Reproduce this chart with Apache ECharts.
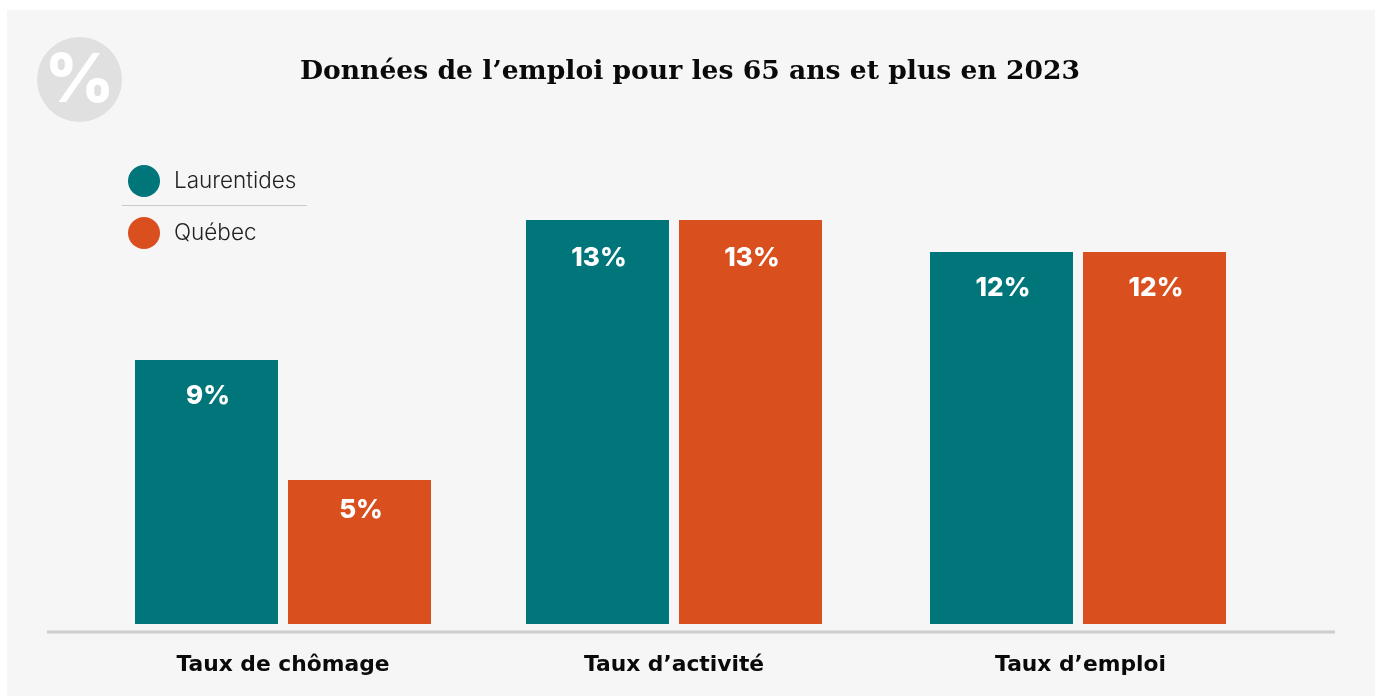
<!DOCTYPE html>
<html lang="fr"><head><meta charset="utf-8">
<style>html,body{margin:0;padding:0;background:#fff}#c{width:1377px;height:696px}</style>
<script src="https://cdn.jsdelivr.net/npm/echarts@6/dist/echarts.min.js"></script>
</head><body><div id="c"></div>
<script>
const titleText = "Données de l’emploi pour les 65 ans et plus en 2023";
const categories = ["Taux de chômage", "Taux d’activité", "Taux d’emploi"];
const seriesNames = ["Laurentides", "Québec"];
const laurentides = [8.8, 13.47, 12.4];
const quebec = [4.8, 13.47, 12.4];
const laurentidesLabels = ["9%", "13%", "12%"];
const quebecLabels = ["5%", "13%", "12%"];

// layout (not data)
const centers = [283, 674, 1078];
const labelNudge = { [seriesNames[0]]: [23, 25, 23], [seriesNames[1]]: [17, 25, 23] };
const axisLabelPad = [0, 0, 5];
const colors = ["#00757a", "#d94f1e"];
const sans = "Inter";

const chart = echarts.init(document.getElementById("c"));
const grids = [], xAxes = [], yAxes = [], series = [];
categories.forEach((cat, i) => {
  grids.push({ left: centers[i] - 190, width: 380, top: 24, height: 600 });
  xAxes.push({ type: "category", gridIndex: i, data: [cat], axisLine: { show: false }, axisTick: { show: false },
    axisLabel: { interval: 0, margin: 30, padding: [0, 0, 0, axisLabelPad[i]], fontFamily: "DejaVu Sans", fontWeight: 700, fontSize: 21.8, color: "#0a0a0a" } });
  yAxes.push({ type: "value", gridIndex: i, min: 0, max: 20, show: false });
  [[laurentides, laurentidesLabels], [quebec, quebecLabels]].forEach(([vals, labs], s) => {
    series.push({
      type: "bar", name: seriesNames[s], xAxisIndex: i, yAxisIndex: i, barWidth: 143, barGap: "7%",
      itemStyle: { color: colors[s] }, data: [vals[i]],
      label: { show: true, position: "insideTop", distance: labelNudge[seriesNames[s]][i], offset: [1.5, 0],
        formatter: () => labs[i], color: "#fff", fontFamily: sans, fontWeight: 800, fontSize: 26 },
      emphasis: { disabled: true }
    });
  });
});

chart.setOption({
  animation: false,
  backgroundColor: "#fff",
  title: { text: titleText, left: 685, top: 54, textAlign: "center",
    textStyle: { fontFamily: "DejaVu Serif", fontWeight: 700, fontSize: 26.6, color: "#0a0a0a" } },
  legend: { orient: "vertical", left: 123, top: 160, itemWidth: 32, itemHeight: 32, itemGap: 20, icon: "circle",
    data: seriesNames, selectedMode: false,
    textStyle: { fontFamily: sans, fontSize: 22.5, fontWeight: 300, color: "#222", padding: [0, 0, 0, 9] } },
  grid: grids, xAxis: xAxes, yAxis: yAxes, series,
  graphic: [
    { type: "rect", z: -10, silent: true, shape: { x: 7, y: 10, width: 1368, height: 686 }, style: { fill: "#f6f6f6" } },
    { type: "circle", z: -5, silent: true, shape: { cx: 79.5, cy: 79.5, r: 42.5 }, style: { fill: "#e0e0e0" } },
    { type: "text", z: -4, silent: true, x: 79.5, y: 82, style: { text: "%", fill: "#fff", font: "800 68px Inter", align: "center", verticalAlign: "middle" } },
    { type: "line", z: -5, silent: true, shape: { x1: 122, y1: 205.5, x2: 307, y2: 205.5 }, style: { stroke: "#c9c9c9", lineWidth: 1 } },
    { type: "line", z: -5, silent: true, shape: { x1: 47, y1: 632, x2: 1335, y2: 632 }, style: { stroke: "#cdcdcd", lineWidth: 3 } }
  ]
});
</script></body></html>
